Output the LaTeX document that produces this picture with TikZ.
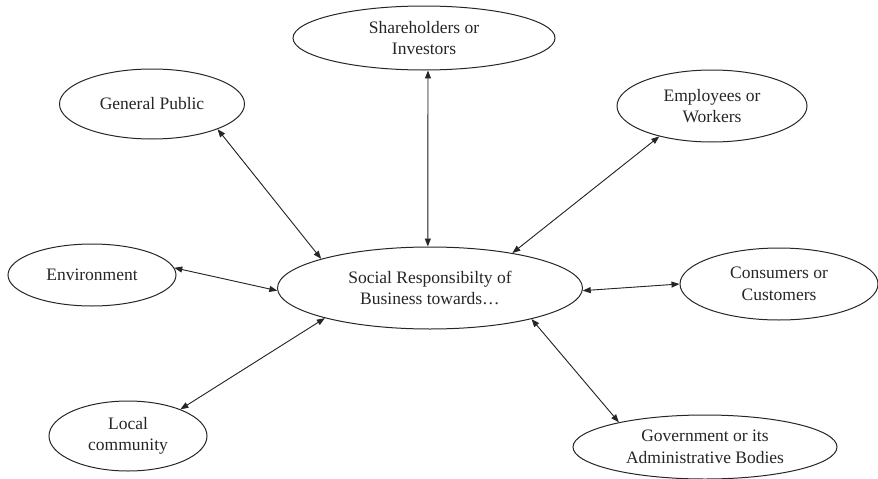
\documentclass[tikz,border=0pt]{standalone}
\usepackage{fontspec}
\setmainfont{Liberation Serif}
\usetikzlibrary{shapes.geometric,arrows.meta}
\begin{document}
\begin{tikzpicture}[x=1pt,y=-1pt,
  bub/.style={ellipse,draw=black!85,line width=1pt,inner sep=0pt,align=center,
    font=\fontsize{17.5}{21.5}\selectfont,text=black!85},
  link/.style={{Triangle[length=8pt,width=6pt]}-{Triangle[length=8pt,width=6pt]},line width=0.9pt,draw=black!85,fill=black!85}]
\useasboundingbox (0,0) rectangle (878,479);
\node[bub,minimum width=305pt,minimum height=82pt] (c) at (430,288) {Social Responsibilty of\\Business towards\dots};
\node[bub,minimum width=262pt,minimum height=64pt] (sh) at (424,38) {Shareholders or\\Investors};
\node[bub,minimum width=185pt,minimum height=70pt] (gp) at (152,104) {General Public};
\node[bub,minimum width=190pt,minimum height=72pt] (em) at (712,106) {Employees or\\Workers};
\node[bub,minimum width=168pt,minimum height=62pt] (en) at (92,275) {Environment};
\node[bub,minimum width=198pt,minimum height=72pt] (co) at (779,284) {Consumers or\\Customers};
\node[bub,minimum width=158pt,minimum height=70pt] (lc) at (128,436) {Local\\community};
\node[bub,minimum width=264pt,minimum height=64pt] (gv) at (705,447) {Government or its\\Administrative Bodies};
\draw[link] (sh.-83) -- (c.93);
\draw[link] (gp.-21) -- (c.165);
\draw[link] (em.-150) -- (c.23.6);
\draw[link] (en.5) -- (c.181);
\draw[link] (co.180) -- (c.-1);
\draw[link] (lc.27) -- (c.196);
\draw[link] (gv.164) -- (c.-17.6);
\end{tikzpicture}
\end{document}
